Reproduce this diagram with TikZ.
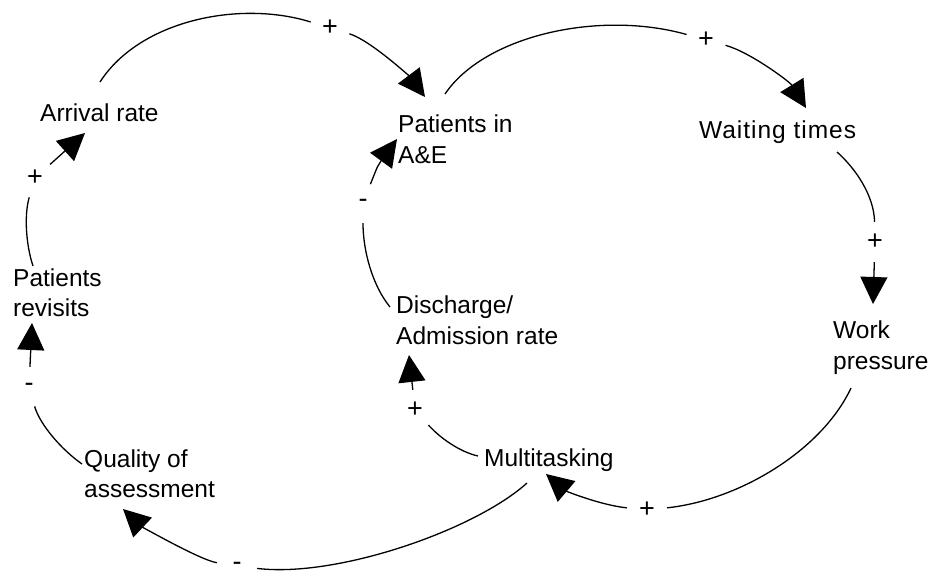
\documentclass[tikz,border=0pt]{standalone}
\usepackage{fontspec}
\setmainfont{Liberation Sans}
\usetikzlibrary{arrows.meta}

\begin{document}
\begin{tikzpicture}[x=1pt,y=-1pt,
  var/.style={anchor=north west,inner sep=0pt,align=left,
              font=\fontsize{24.5}{30.5}\selectfont},
  pol/.style={circle,inner sep=0pt,minimum size=40pt,
              font=\fontsize{27}{30}\selectfont},
  flatpol/.style={pol,rectangle,minimum size=0pt,minimum width=40pt},
  link/.style={line width=1.3pt},
  cause/.style={link,-{Triangle[length=27pt,width=27pt]}}]

% canvas
\fill[white] (0,0) rectangle (935,577);
\useasboundingbox (0,0) rectangle (935,577);

% variables
\node[var] (arrival)  at (40,104)    {Arrival rate};
\node[var] (inae)     at (398,115)   {Patients in\\A\&E};
\node[var] (waiting)  at (699,120.5) {\addfontfeature{LetterSpace=4}Waiting times};
\node[var] (work)     at (833,321)   {Work\\pressure};
\node[var] (dischg)   at (396,296)   {Discharge/\\Admission rate};
\node[var] (multi)    at (484,448.5) {Multitasking};
\node[var] (quality)  at (84,449.5)  {Quality of\\assessment};
\node[var] (revisits) at (13,268.5)  {Patients\\revisits};

% link polarities
\node[pol] (p1) at (330,28)  {+};
\node[pol] (p2) at (706,40)  {+};
\node[pol] (p3) at (875,242) {+};
\node[pol] (p4) at (647,510) {+};
\node[pol] (p5) at (415,410) {+};
\node[pol] (p6) at (363,203) {-};
\node[flatpol] (p7) at (237,566) {-};
\node[pol] (p8) at (29,387)  {-};
\node[pol] (p9) at (35,178)  {+};

% link end points beside the variables
\coordinate (s1) at (100,82);  \coordinate (t1) at (425,97);
\coordinate (s2) at (445,94);  \coordinate (t2) at (806,108);
\coordinate (s3) at (837,152); \coordinate (t3) at (873,304);
\coordinate (s4) at (851,388); \coordinate (t4) at (546,474);
\coordinate (s5) at (478,456); \coordinate (t5) at (409,355);
\coordinate (s6) at (390,307); \coordinate (t6) at (397,139);
\coordinate (s7) at (527,483); \coordinate (t7) at (123,509);
\coordinate (s8) at (82,464);  \coordinate (t8) at (32,323);
\coordinate (s9) at (33,266);  \coordinate (t9) at (85,133);

% Arrival rate -> Patients in A&E
\draw[link]  (s1) .. controls (140,20) and (240,0) .. (p1);
\draw[cause] (p1) .. controls (370,40) and (410,77) .. (t1);
% Patients in A&E -> Waiting times
\draw[link]  (s2) .. controls (485,35) and (600,10) .. (p2);
\draw[cause] (p2) .. controls (750,52) and (790,82) .. (t2);
% Waiting times -> Work pressure
\draw[link]  (s3) .. controls (855,168) and (874,195) .. (p3);
\draw[cause] (p3) -- (t3);
% Work pressure -> Multitasking
\draw[link]  (s4) .. controls (822,450) and (740,500) .. (p4);
\draw[cause] (p4) .. controls (600,505) and (566,491) .. (t4);
% Multitasking -> Discharge/Admission rate
\draw[link]  (s5) .. controls (460,452) and (440,438) .. (p5);
\draw[cause] (p5) -- (t5);
% Discharge/Admission rate -> Patients in A&E
\draw[link]  (s6) .. controls (372,285) and (363,250) .. (p6);
\draw[cause] (p6) .. controls (378,165) .. (t6);
% Multitasking -> Quality of assessment
\draw[link]  (s7) .. controls (475,530) and (337,578) .. (p7);
\draw[cause] (p7) .. controls (200,560) and (141,526) .. (t7);
% Quality of assessment -> Patients revisits
\draw[link]  (s8) .. controls (62,450) and (40,425) .. (p8);
\draw[cause] (p8) -- (t8);
% Patients revisits -> Arrival rate
\draw[link]  (s9) .. controls (26,245) and (24,215) .. (p9);
\draw[cause] (p9) -- (t9);
\end{tikzpicture}
\end{document}
